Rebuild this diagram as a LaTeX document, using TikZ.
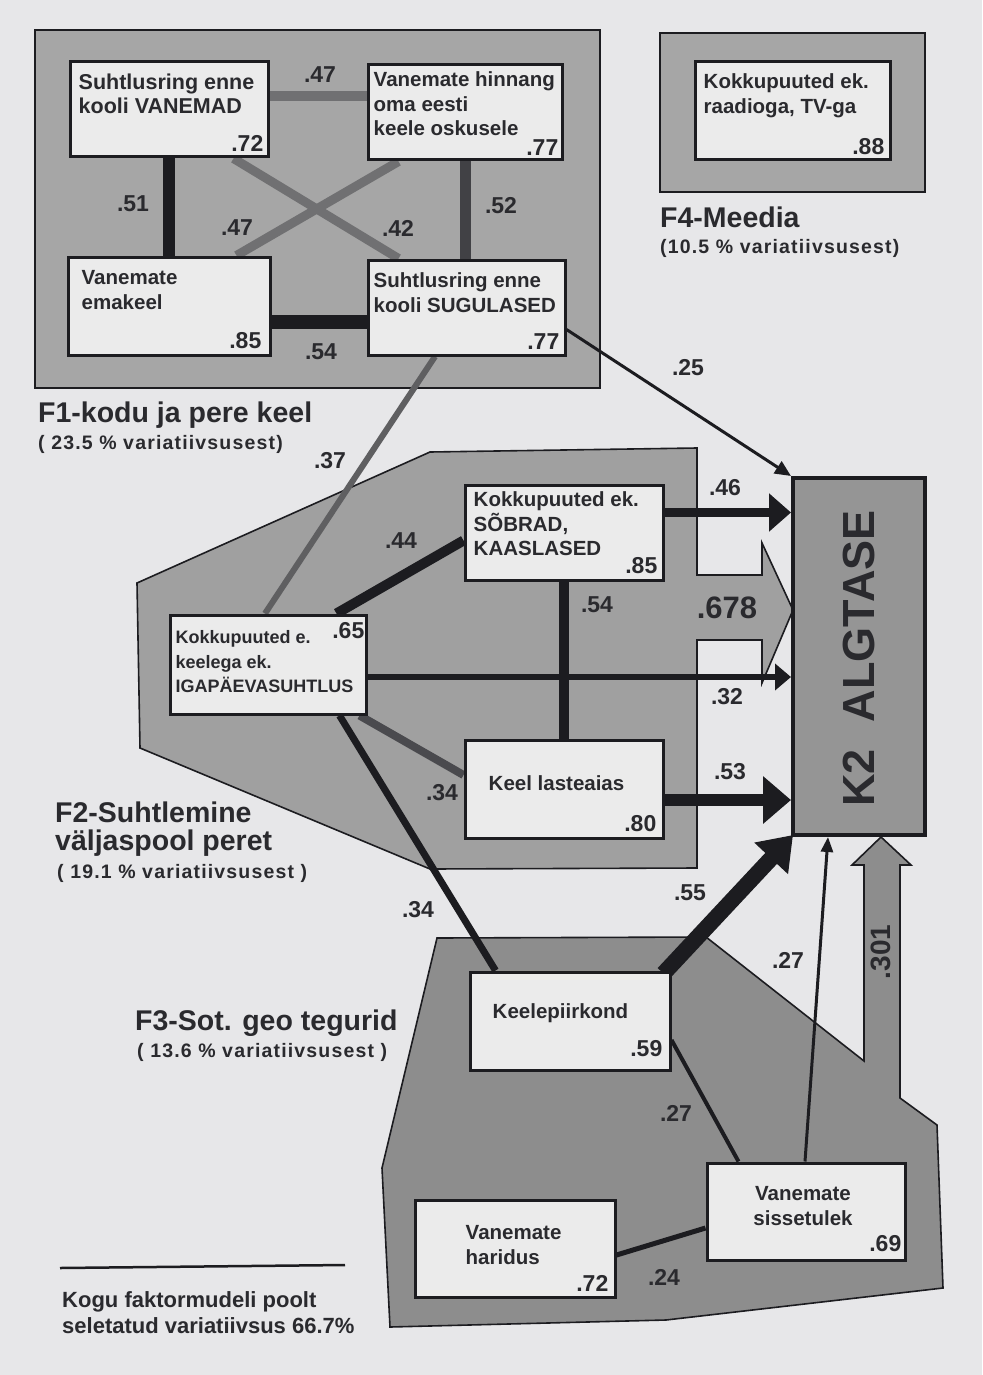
\documentclass[tikz,border=0pt]{standalone}
\usepackage{fontspec}
\setmainfont{Liberation Sans}
\newfontfamily\subfont{Liberation Sans}[LetterSpace=6]
\usetikzlibrary{arrows.meta}
\pgfdeclarelayer{panels}
\pgfdeclarelayer{links}
\pgfsetlayers{panels,links,main}
\definecolor{bg}{HTML}{E7E7E9}
\definecolor{panelA}{HTML}{A6A6A6}
\definecolor{panelB}{HTML}{A0A0A0}
\definecolor{panelC}{HTML}{8D8D8D}
\definecolor{ktwo}{HTML}{959595}
\definecolor{boxfill}{HTML}{EBEBEB}
\definecolor{ink}{HTML}{2A2A2E}
\definecolor{dk}{HTML}{1C1C20}
\definecolor{gr}{HTML}{707072}
\definecolor{mg}{HTML}{4A4A4E}
\tikzset{
  box/.style={draw=dk, line width=3pt, fill=boxfill, inner sep=0pt},
  panel/.style={draw=dk, line width=1.6pt},
  btxt/.style={font=\fontsize{20.5}{24.5}\selectfont\bfseries, text=ink, align=left, inner sep=0pt, anchor=north west},
  val/.style={font=\fontsize{23}{26}\selectfont\bfseries, text=ink, inner sep=0pt, anchor=base east},
  num/.style={font=\fontsize{23}{26}\selectfont\bfseries, text=ink, inner sep=0pt},
  big/.style={font=\fontsize{28.5}{32}\selectfont\bfseries, text=ink, inner sep=0pt, anchor=base west},
  sublbl/.style={font=\subfont\fontsize{19.5}{22}\selectfont\bfseries, text=ink, inner sep=0pt, anchor=base west},
  totlbl/.style={font=\fontsize{22}{26}\selectfont\bfseries, text=ink, inner sep=0pt, anchor=base west},
  conn/.style={line cap=butt},
}
\begin{document}
\begin{tikzpicture}[x=1pt,y=-1pt]
\useasboundingbox (0,0) rectangle (982,1375);

\begin{pgfonlayer}{panels}
\fill[bg] (0,0) rectangle (982,1375);
\draw[panel, fill=panelA] (35,30) rectangle (600,388);
\draw[panel, fill=panelA] (660,33) rectangle (925,192);
\draw[panel, fill=panelB] (137,583) -- (430,452) -- (697,448) -- (697,575) -- (762,575) -- (762,543) -- (793,610) -- (762,683) -- (762,640) -- (697,640) -- (697,868) -- (430,869) -- (140,748) -- cycle;
\draw[panel, fill=panelC] (437,938) -- (706,937) -- (864,1061) -- (864,865) -- (852,865) -- (881,837) -- (911,865) -- (900,865) -- (900,1098) -- (937,1125) -- (943,1288) -- (666,1320) -- (390,1327) -- (382,1168) -- cycle;
\end{pgfonlayer}

% boxes
\node[box, minimum width=198, minimum height=95] (vanemad) at (169,109.5) {};
\node[box, minimum width=194, minimum height=95] (hinnang) at (465,112.5) {};
\node[box, minimum width=202, minimum height=98] (emakeel) at (169,306) {};
\node[box, minimum width=197, minimum height=95] (sugulased) at (466.5,307.5) {};
\node[box, minimum width=195, minimum height=98] (meedia) at (792.5,111) {};
\node[box, minimum width=198, minimum height=95] (sobrad) at (564,532.5) {};
\node[box, minimum width=196, minimum height=99] (iga) at (268,664.5) {};
\node[box, minimum width=198, minimum height=98] (lasteaias) at (564,789) {};
\node[box, minimum width=200, minimum height=98] (keelep) at (570,1021) {};
\node[box, minimum width=198, minimum height=97] (sissetulek) at (806,1211.5) {};
\node[box, minimum width=200, minimum height=97] (haridus) at (515,1248.5) {};
\node[draw=dk, line width=4pt, fill=ktwo, minimum width=132, minimum height=357, inner sep=0pt] (k2) at (859,656.5) {};

% connectors (xshift/yshift are canvas: positive yshift = up)
\begin{pgfonlayer}{links}
% F1
\draw[conn, gr, line width=10pt] ([yshift=13]vanemad.east) -- ([yshift=13]vanemad.east -| hinnang.west);
\draw[conn, dk, line width=12pt] (vanemad.south) -- (emakeel.north);
\draw[conn, mg!80!dk, line width=11pt] (hinnang.south) -- (hinnang.south |- sugulased.north);
\draw[conn, dk, line width=14pt] ([yshift=-16]emakeel.east) -- ([yshift=-16]emakeel.east -| sugulased.west);
\draw[conn, gr, line width=9pt] ([xshift=-36]vanemad.south east) -- ([xshift=32]sugulased.north west);
\draw[conn, gr, line width=9pt] ([xshift=32]hinnang.south west) -- ([xshift=-35]emakeel.north east);
% F1 -> others
\draw[conn, gr!85!black, line width=6pt] ([xshift=-31.5]sugulased.south) -- ([xshift=-3]iga.north);
\draw[conn, dk, line width=3pt, -{Triangle[length=16pt,width=14pt]}] ([yshift=-22]sugulased.east) -- (k2.north west);
% F2
\draw[conn, dk, line width=10pt] ([xshift=-31]iga.north east) -- ([yshift=-8]sobrad.west);
\draw[conn, dk, line width=10pt] (sobrad.south) -- (lasteaias.north);
\draw[conn, mg, line width=8pt] ([xshift=-8]iga.south east) -- ([yshift=14]lasteaias.west);
\draw[conn, dk, line width=6pt, -{Triangle[length=16pt,width=26pt]}] ([yshift=-12.5]iga.east) -- ([yshift=-12.5]iga.east -| k2.west);
\draw[conn, dk, line width=9pt, -{Triangle[length=22pt,width=37pt]}] ([yshift=20]sobrad.east) -- ([yshift=20]sobrad.east -| k2.west);
\draw[conn, dk, line width=12pt, -{Triangle[length=28pt,width=46pt]}] ([yshift=-11]lasteaias.east) -- ([yshift=-11]lasteaias.east -| k2.west);
% F2 -> F3
\draw[conn, dk, line width=7pt] ([xshift=-28]iga.south east) -- ([xshift=27]keelep.north west);
% F3
\draw[conn, dk, line width=16pt, -{Triangle[length=32pt,width=44pt]}] ([xshift=-8,yshift=-3]keelep.north east) -- ([xshift=2,yshift=2]k2.south west);
\draw[conn, dk, line width=3pt, -{Triangle[length=15pt,width=12pt]}] ([xshift=-1]sissetulek.north) -- ([xshift=-31]k2.south);
\draw[conn, dk, line width=4pt] ([yshift=-19]keelep.east) -- ([xshift=33]sissetulek.north west);
\draw[conn, dk, line width=5pt] ([yshift=-6.5]haridus.east) -- ([yshift=-16.5]sissetulek.west);
\end{pgfonlayer}

% box texts
\node[btxt, font=\fontsize{21.5}{24.5}\selectfont\bfseries] (vanemad-t) at ([shift={(10,13)}]vanemad.north west) {Suhtlusring enne\\kooli VANEMAD};
\node[val] (vanemad-v) at ([shift={(-6,-7)}]vanemad.south east) {.72};
\node[btxt] (hinnang-t) at ([shift={(7,8)}]hinnang.north west) {Vanemate hinnang\\oma eesti\\keele oskusele};
\node[val] (hinnang-v) at ([shift={(-5,-6)}]hinnang.south east) {.77};
\node[btxt] (emakeel-t) at ([shift={(15,15)}]emakeel.north west) {Vanemate\\emakeel};
\node[val] (emakeel-v) at ([shift={(-10,-8)}]emakeel.south east) {.85};
\node[btxt] (sugulased-t) at ([shift={(7,14)}]sugulased.north west) {Suhtlusring enne\\kooli SUGULASED};
\node[val] (sugulased-v) at ([shift={(-7,-7)}]sugulased.south east) {.77};
\node[btxt] (meedia-t) at ([shift={(10,13)}]meedia.north west) {Kokkupuuted ek.\\raadioga, TV-ga};
\node[val] (meedia-v) at ([shift={(-7,-7)}]meedia.south east) {.88};
\node[btxt] (sobrad-t) at ([shift={(10,8)}]sobrad.north west) {Kokkupuuted ek.\\SÕBRAD,\\KAASLASED};
\node[val] (sobrad-v) at ([shift={(-7,-8)}]sobrad.south east) {.85};
\node[btxt, font=\fontsize{18}{24.5}\selectfont\bfseries] (iga-t) at ([shift={(7,17)}]iga.north west) {Kokkupuuted e.\\keelega ek.\\IGAPÄEVASUHTLUS};
\node[val] (iga-v) at ([shift={(-3,25)}]iga.north east) {.65};
\node[btxt] (lasteaias-t) at ([shift={(25,37)}]lasteaias.north west) {Keel lasteaias};
\node[val] (lasteaias-v) at ([shift={(-8,-8)}]lasteaias.south east) {.80};
\node[btxt] (keelep-t) at ([shift={(24,33)}]keelep.north west) {Keelepiirkond};
\node[val] (keelep-v) at ([shift={(-9,-15)}]keelep.south east) {.59};
\node[btxt, anchor=north, align=center] (sissetulek-t) at ([shift={(-3,25)}]sissetulek.north) {Vanemate\\sissetulek};
\node[val] (sissetulek-v) at ([shift={(-5,-10)}]sissetulek.south east) {.69};
\node[btxt] (haridus-t) at ([shift={(52,27)}]haridus.north west) {Vanemate\\haridus};
\node[val] (haridus-v) at ([shift={(-8,-7)}]haridus.south east) {.72};
\node[font=\fontsize{45}{50}\selectfont\bfseries, text=ink, rotate=90, inner sep=0pt] (k2-t) at ([yshift=-2]k2.center) {K2\hspace{0.6em}ALGTASE};

% coefficient labels
\node[num] (l47a) at (320,75) {.47};
\node[num] (l51) at (133,204) {.51};
\node[num] (l52) at (501,206) {.52};
\node[num] (l47b) at (237,228) {.47};
\node[num] (l42) at (398,228) {.42};
\node[num] (l54a) at (321,352) {.54};
\node[num] (l25) at (688,368) {.25};
\node[num] (l37) at (330,461) {.37};
\node[num] (l44) at (401,541) {.44};
\node[num] (l54b) at (597,605) {.54};
\node[num] (l46) at (725,488) {.46};
\node[num, font=\fontsize{31}{34}\selectfont\bfseries] (l678) at (727,608) {.678};
\node[num] (l32) at (727,697) {.32};
\node[num] (l53) at (730,772) {.53};
\node[num] (l34a) at (442,793) {.34};
\node[num] (l34b) at (418,910) {.34};
\node[num] (l55) at (690,893) {.55};
\node[num] (l27a) at (788,960) {.27};
\node[num, font=\fontsize{28}{30}\selectfont\bfseries, rotate=90] (l301) at (881,952) {.301};
\node[num] (l27b) at (676,1113) {.27};
\node[num] (l24) at (664,1277) {.24};

% factor labels
\node[big] (f1) at (38,422) {F1-kodu ja pere keel};
\node[sublbl] (f1s) at (38,449) {( 23.5 \% variatiivsusest)};
\node[big] (f4) at (660,227) {F4-Meedia};
\node[sublbl] (f4s) at (660,253) {(10.5 \% variatiivsusest)};
\node[big] (f2a) at (55,822) {F2-Suhtlemine};
\node[big] (f2b) at (55,850) {väljaspool peret};
\node[sublbl] (f2s) at (57,878) {( 19.1 \% variatiivsusest )};
\node[big] (f3) at (135,1030) {F3-Sot. geo tegurid};
\node[sublbl] (f3s) at (137,1057) {( 13.6 \% variatiivsusest )};

% total
\coordinate (rule-l) at (60,1268);
\coordinate (rule-r) at (345,1265);
\draw[dk, line width=2.5pt] (rule-l) -- (rule-r);
\node[totlbl] (tot1) at (62,1307) {Kogu faktormudeli poolt};
\node[totlbl] (tot2) at (62,1333) {seletatud variatiivsus 66.7\%};
\end{tikzpicture}
\end{document}
